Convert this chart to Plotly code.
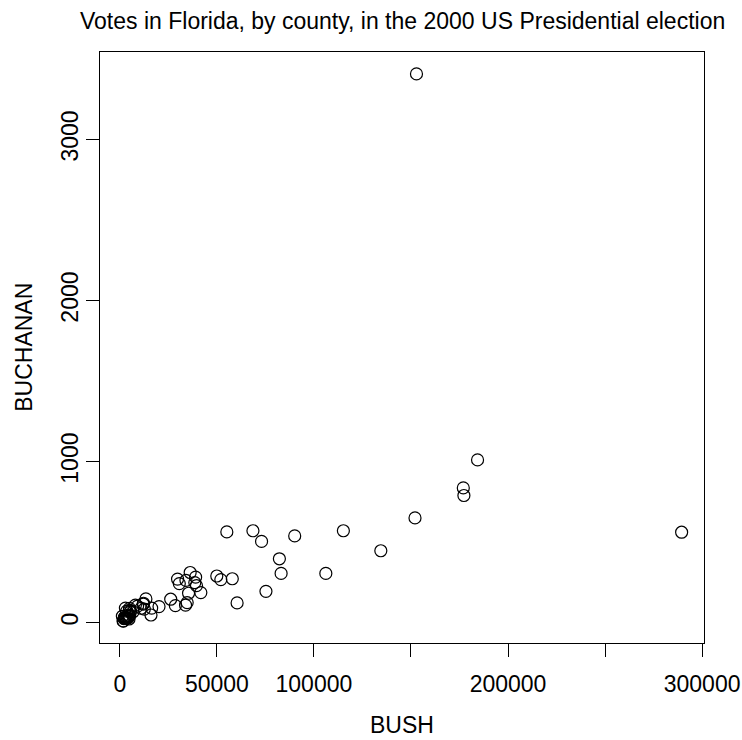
import plotly.graph_objects as go

# Florida 2000 presidential election, votes by county
counties = ["Alachua", "Baker", "Bay", "Bradford", "Brevard", "Broward", "Calhoun",
            "Charlotte", "Citrus", "Clay", "Collier", "Columbia", "Dade", "DeSoto",
            "Dixie", "Duval", "Escambia", "Flagler", "Franklin", "Gadsden", "Gilchrist",
            "Glades", "Gulf", "Hamilton", "Hardee", "Hendry", "Hernando", "Highlands",
            "Hillsborough", "Holmes", "Indian River", "Jackson", "Jefferson", "Lafayette",
            "Lake", "Lee", "Leon", "Levy", "Liberty", "Madison", "Manatee", "Marion",
            "Martin", "Monroe", "Nassau", "Okaloosa", "Okeechobee", "Orange", "Osceola",
            "Palm Beach", "Pasco", "Pinellas", "Polk", "Putnam", "St. Johns", "St. Lucie",
            "Santa Rosa", "Sarasota", "Seminole", "Sumter", "Suwannee", "Taylor", "Union",
            "Volusia", "Wakulla", "Walton", "Washington"]

bush = [34062, 5610, 38637, 5413, 115185, 177279, 2873, 35419, 29744, 41745, 60426,
        10964, 289456, 4256, 2698, 152082, 73029, 12608, 2448, 4750, 3300, 1840, 3546,
        2153, 3764, 4743, 30646, 20196, 176967, 4985, 28627, 9138, 2481, 1669, 49963,
        106141, 39053, 6860, 1316, 3038, 57948, 55135, 33864, 16059, 16404, 52043, 5058,
        134476, 26216, 152846, 68581, 184312, 90101, 13439, 39497, 34705, 36248, 83100,
        75293, 12126, 8014, 4051, 2326, 82214, 4511, 12176, 4983]

buchanan = [262, 73, 248, 65, 570, 789, 90, 182, 270, 186, 122, 89, 561, 36, 29, 650,
            504, 83, 33, 39, 29, 9, 71, 24, 30, 22, 242, 99, 836, 76, 105, 102, 29, 10,
            289, 305, 282, 67, 39, 29, 272, 563, 108, 47, 90, 267, 43, 446, 145, 3407,
            570, 1010, 538, 147, 229, 124, 311, 305, 194, 114, 108, 27, 26, 396, 46, 120, 88]

x_ticks = [0, 50000, 100000, 150000, 200000, 250000, 300000]
x_labels = ["0", "50000", "100000", "", "200000", "", "300000"]
y_ticks = [0, 1000, 2000, 3000]
y_labels = ["0", "1000", "2000", "3000"]

FONT = "Liberation Sans, Arial, Helvetica, sans-serif"
SIZE = 23


def padded(values, frac=0.04):
    lo, hi = min(values), max(values)
    pad = (hi - lo) * frac
    return [lo - pad, hi + pad]


fig = go.Figure(
    go.Scatter(
        x=bush, y=buchanan, text=counties, mode="markers",
        marker=dict(symbol="circle-open", size=12, color="black",
                    line=dict(width=1.2, color="black")),
        hovertemplate="%{text}<br>Bush: %{x}<br>Buchanan: %{y}<extra></extra>",
    )
)

axis_common = dict(
    showgrid=False, zeroline=False, showline=True, mirror=True,
    linecolor="black", linewidth=1, ticks="outside", ticklen=13,
    tickwidth=1, tickcolor="black", automargin=False,
    tickfont=dict(family=FONT, size=SIZE, color="black"),
)

fig.update_xaxes(range=padded(bush), tickvals=x_ticks, ticktext=x_labels,
                 ticklabelstandoff=7, **axis_common)
fig.update_yaxes(range=padded(buchanan), tickvals=y_ticks, ticktext=y_labels,
                 tickangle=-90, ticklabelstandoff=-1, **axis_common)

fig.update_layout(
    width=742, height=740,
    margin=dict(l=100, r=38, t=52, b=97),
    paper_bgcolor="white", plot_bgcolor="white",
    showlegend=False,
    font=dict(family=FONT, color="black"),
    annotations=[
        dict(text="Votes in Florida, by county, in the 2000 US Presidential election",
             xref="paper", yref="paper", x=0.5, y=1.052, xanchor="center",
             yanchor="middle", showarrow=False, font=dict(size=SIZE)),
        dict(text="BUSH", xref="paper", yref="paper", x=0.5, y=-0.138,
             xanchor="center", yanchor="middle", showarrow=False, font=dict(size=SIZE)),
        dict(text="BUCHANAN", xref="paper", yref="paper", x=-0.127, y=0.5,
             xanchor="center", yanchor="middle", textangle=-90, showarrow=False,
             font=dict(size=SIZE)),
    ],
)

fig.write_html("out.html")
